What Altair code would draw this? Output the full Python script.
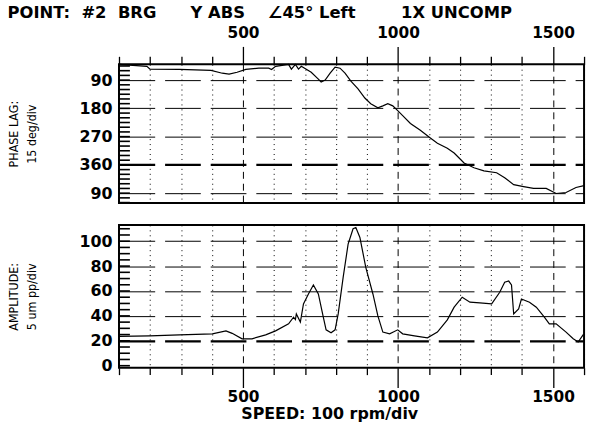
import altair as alt
import pandas as pd

# ---------------- data ----------------
phase_rpm = [100, 190, 200, 295, 397, 433, 455, 481, 509, 551, 583, 592, 605, 647, 656, 669,
             679, 688, 720, 743, 752, 765, 781, 797, 813, 829, 848, 871, 893, 912, 935, 951,
             967, 983, 999, 1015, 1040, 1072, 1101, 1127, 1159, 1181, 1213, 1245, 1277, 1318,
             1344, 1373, 1405, 1437, 1478, 1510, 1542, 1574, 1600]
phase_deg = [40, 46, 55, 56, 59, 68, 71, 65, 56, 52, 52, 56, 46, 40, 55, 40,
             55, 46, 65, 87, 96, 90, 68, 49, 52, 68, 93, 118, 147, 165, 178, 172,
             165, 172, 187, 203, 228, 250, 272, 291, 307, 322, 354, 369, 379, 385,
             401, 423, 429, 435, 435, 451, 448, 432, 426]

amp_rpm = [100, 199, 295, 401, 445, 465, 497, 529, 573, 605, 647, 663, 669, 672, 685, 695,
           711, 727, 743, 759, 768, 784, 797, 807, 823, 839, 855, 864, 877, 896, 919, 935,
           951, 973, 999, 1015, 1053, 1095, 1127, 1159, 1181, 1207, 1232, 1264, 1302, 1328,
           1344, 1357, 1366, 1373, 1389, 1398, 1424, 1446, 1472, 1488, 1510, 1542, 1565,
           1581, 1597, 1600]
amp_um = [23.5, 24, 24.8, 25.6, 28, 26, 21.6, 21.6, 24.8, 28, 33.6, 39, 37, 41.6, 35, 49.6,
          57.6, 64.8, 57.6, 39, 28.8, 26.4, 28.8, 41.6, 71, 97.6, 110, 111, 103, 79, 57.6, 40,
          27, 25.6, 28.8, 25.6, 24, 22.4, 27, 36.8, 47, 55, 51, 50.4, 49.6, 59,
          67, 68, 64.8, 41.6, 45.6, 53.6, 51, 47, 39, 33.6, 33.6, 27, 21.6,
          19, 24.8, 25]

speed_ticks = list(range(100, 1601, 100))
phase_ticks = list(range(45, 481, 15))
amp_ticks = list(range(0, 111, 5))

NB = "\u00a0"
title_text = ("POINT:" + NB * 2 + "#2" + NB * 2 + "BRG" + NB * 6 + "Y" + NB + "ABS" + NB * 4
              + "\u222045\u00b0" + NB + "Left" + NB * 8 + "1X" + NB + "UNCOMP")

phase_df = pd.DataFrame({"rpm": phase_rpm, "deg": phase_deg})
amp_df = pd.DataFrame({"rpm": amp_rpm, "amp": amp_um})
phase_tick_df = pd.DataFrame({"deg": phase_ticks})
amp_tick_df = pd.DataFrame({"amp": amp_ticks})

LABEL_FONT = "DejaVu Sans"
NARROW = "Liberation Sans Narrow, DejaVu Sans Condensed, sans-serif"
W = 469

x_scale = alt.Scale(domain=[100, 1600], nice=False, zero=False)
phase_scale = alt.Scale(domain=[39.5, 481.6], nice=False, zero=False, reverse=True)
amp_scale = alt.Scale(domain=[-1.6, 113.1], nice=False, zero=False)

major = "datum.value % 500 == 0"


def x_axis(orient, big, small, pad, **kw):
    args = dict(
        orient=orient, values=speed_ticks, format="d", domain=False,
        labelExpr=f"{major} ? datum.label : ''", labelFlush=False, labelPadding=pad,
        labelFont=LABEL_FONT, labelFontWeight="bold", labelFontSize=15.5, labelColor="black",
        tickColor="black", tickWidth=1.3,
        tickSize={"condition": {"test": major, "value": big}, "value": small},
        grid=True, gridColor="black", gridWidth=1,
        gridDash={"condition": {"test": major, "value": [7, 5]}, "value": [1, 4]},
    )
    args.update(kw)
    return alt.Axis(**args)


def y_axis(values, label_expr, grid_test, thick_test, title):
    return alt.Axis(
        values=values, ticks=False, domain=False, labelPadding=7, labelExpr=label_expr,
        labelFont=LABEL_FONT, labelFontWeight="bold", labelFontSize=16, labelColor="black",
        grid=True, gridColor="black", gridDash=[36, 10],
        gridOpacity={"condition": {"test": grid_test, "value": 1}, "value": 0},
        gridWidth={"condition": {"test": thick_test, "value": 2.4}, "value": 1},
        title=title, titleFont=NARROW, titleFontSize=12.5, titleFontWeight="normal",
        titleColor="black", titleLineHeight=18, titlePadding=41,
    )


phase_yaxis = y_axis(phase_ticks,
                     "datum.value % 90 == 0 ? '' + (datum.value > 360 ? datum.value - 360 : datum.value) : ''",
                     "datum.value % 90 == 0", "datum.value == 360",
                     ["PHASE LAG:", "15 deg/div"])
amp_yaxis = y_axis(amp_ticks,
                   "datum.value % 20 == 0 ? '' + datum.value : ''",
                   "datum.value % 20 == 0 && datum.value > 0", "datum.value == 20",
                   ["AMPLITUDE:", "5 um pp/div"])

phase_line = alt.Chart(phase_df).mark_line(color="black", strokeWidth=1.2).encode(
    x=alt.X("rpm:Q", scale=x_scale, axis=x_axis("top", 18, 8, 6, title=None)),
    y=alt.Y("deg:Q", scale=phase_scale, axis=phase_yaxis),
)
phase_comb = alt.Chart(phase_tick_df).mark_rule(color="black", strokeWidth=1.6).encode(
    y=alt.Y("deg:Q", scale=phase_scale, axis=phase_yaxis), x=alt.value(0), x2=alt.value(11),
)
phase_chart = alt.layer(phase_line, phase_comb).properties(width=W, height=140)

amp_line = alt.Chart(amp_df).mark_line(color="black", strokeWidth=1.2).encode(
    x=alt.X("rpm:Q", scale=x_scale,
            axis=x_axis("bottom", 20, 7, 2, title="SPEED: 100 rpm/div",
                        titleFont=LABEL_FONT, titleFontSize=16, titleFontWeight="bold",
                        titleColor="black", titleX=212, titlePadding=1)),
    y=alt.Y("amp:Q", scale=amp_scale, axis=amp_yaxis),
)
amp_comb = alt.Chart(amp_tick_df).mark_rule(color="black", strokeWidth=1.6).encode(
    y=alt.Y("amp:Q", scale=amp_scale, axis=amp_yaxis), x=alt.value(0), x2=alt.value(11),
)
amp_chart = alt.layer(amp_line, amp_comb).properties(width=W, height=144)

chart = alt.vconcat(phase_chart, amp_chart, spacing=19).properties(
    padding={"left": 6, "right": 2, "top": 3, "bottom": 0},
    title=alt.TitleParams(title_text, anchor="start", font=LABEL_FONT, fontSize=16.5,
                          fontWeight="bold", color="black", offset=3, dx=1),
    background="white",
).configure_view(stroke="black", strokeWidth=2)

chart.save("out.html", embed_options={"renderer": "svg", "actions": False})
